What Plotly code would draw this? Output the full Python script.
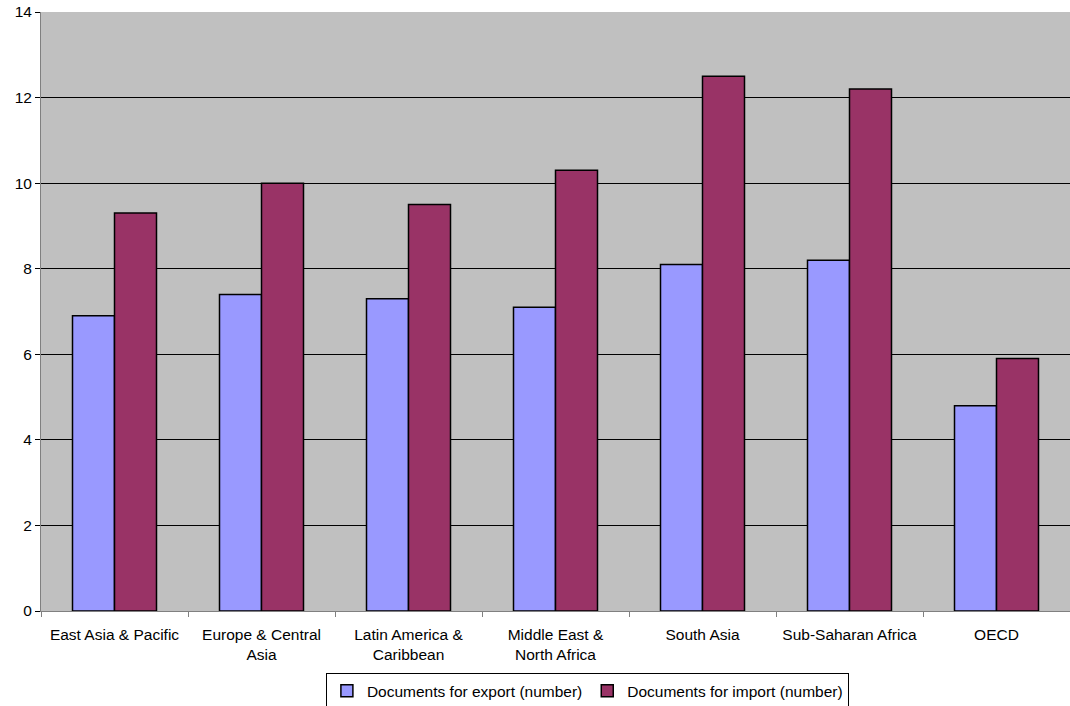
import plotly.graph_objects as go

regions = ["East Asia & Pacific", "Europe & Central<br>Asia", "Latin America &<br>Caribbean",
           "Middle East &<br>North Africa", "South Asia", "Sub-Saharan Africa", "OECD"]
export_docs = [6.9, 7.4, 7.3, 7.1, 8.1, 8.2, 4.8]
import_docs = [9.3, 10.0, 9.5, 10.3, 12.5, 12.2, 5.9]
y_ticks = [0, 2, 4, 6, 8, 10, 12, 14]

fig = go.Figure()
fig.add_trace(go.Bar(x=regions, y=export_docs, name="Documents for export (number)",
                     marker=dict(color="#9999FF", line=dict(color="#000000", width=1.5))))
fig.add_trace(go.Bar(x=regions, y=import_docs, name="Documents for import (number)",
                     marker=dict(color="#993366", line=dict(color="#000000", width=1.5))))

fig.update_layout(
    width=1070, height=706,
    margin=dict(l=41, r=0, t=12, b=95, autoexpand=False),
    paper_bgcolor="white", plot_bgcolor="#C0C0C0",
    barmode="group", bargap=0.4286, bargroupgap=0,
    font=dict(family="Liberation Sans, Arial, sans-serif", size=15.5, color="black"),
    legend=dict(orientation="h", x=0.531, xanchor="center", y=-0.104, yanchor="top",
                bordercolor="black", borderwidth=1, font=dict(size=15.5),
                itemwidth=30, traceorder="normal", tracegroupgap=0),
    showlegend=True,
)
fig.update_xaxes(type="category", tickson="boundaries", ticks="outside", ticklen=5,
                 tickcolor="#808080", showline=True, linecolor="#808080", linewidth=1,
                 showgrid=False, tickfont=dict(size=15.5), ticklabelstandoff=9,
                 automargin=False)
fig.update_yaxes(range=[0, 14], tickvals=y_ticks, ticks="outside", ticklen=5,
                 tickcolor="#000000", showline=True, linecolor="#808080", linewidth=1,
                 showgrid=True, gridcolor="#000000", gridwidth=1, zeroline=False,
                 tickfont=dict(size=15.5), automargin=False)

fig.write_html("out.html")
